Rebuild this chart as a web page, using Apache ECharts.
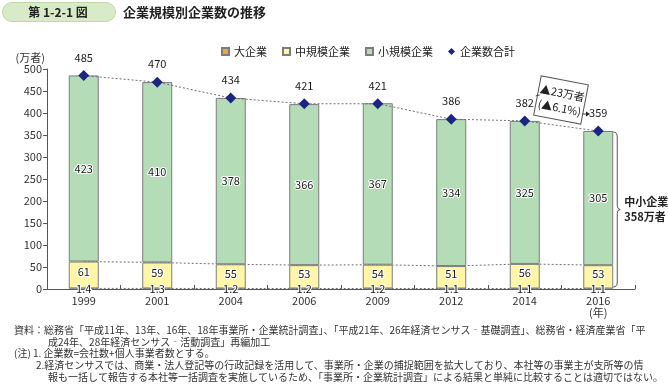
<!DOCTYPE html>
<html><head><meta charset="utf-8">
<script src="https://cdn.jsdelivr.net/npm/echarts@6/dist/echarts.min.js"></script>
<style>html,body{margin:0;padding:0;background:#fff}#c{width:668px;height:389px}</style>
</head><body><div id="c"></div>
<script>
const years = ['1999','2001','2004','2006','2009','2012','2014','2016'];
const large = [1.4,1.3,1.2,1.2,1.2,1.1,1.1,1.1];
const medium = [61,59,55,53,54,51,56,53];
const small = [423,410,378,366,367,334,325,305];
const total = [485,470,434,421,421,386,382,359];
const yTicks = [0,50,100,150,200,250,300,350,400,450,500];

const FONT = '"Noto Sans CJK JP","Noto Sans",sans-serif';
const lowTop = large.slice();
const midTop = large.map((v,i)=>+(v+medium[i]).toFixed(1));

const chart = echarts.init(document.getElementById('c'));
const border = {borderColor:'#7d7d7d', borderWidth:1};
const halo = {color:'#1a1a1a', fontSize:11, fontFamily:FONT, textBorderColor:'#fff', textBorderWidth:2};
const dashed = {color:'#707070', width:1, type:[2,2]};

chart.setOption({
  animation:false,
  textStyle:{fontFamily:FONT},
  grid:{left:47, right:33, top:69, bottom:100},
  legend:{
    left:216, top:41, itemWidth:7, itemHeight:7, itemGap:15,
    textStyle:{fontSize:11, color:'#222', fontFamily:FONT},
    data:[
      {name:'大企業', icon:'rect'},
      {name:'中規模企業', icon:'rect'},
      {name:'小規模企業', icon:'rect'},
      {name:'企業数合計', icon:'diamond', itemStyle:{color:'#1b2683', borderWidth:0}}
    ]
  },
  xAxis:{
    type:'category', data:years,
    axisLine:{lineStyle:{color:'#555', width:1}},
    axisTick:{show:true, inside:true, length:4, lineStyle:{color:'#555'}},
    axisLabel:{color:'#333', fontSize:11, margin:6, lineHeight:12,
      formatter:(v)=> v==='2016' ? '2016\n(年)' : v}
  },
  yAxis:{
    type:'value', min:0, max:500, interval:50,
    name:'(万者)', nameLocation:'end', nameGap:6,
    nameTextStyle:{color:'#333', fontSize:11, align:'right', padding:[0,2,0,0]},
    axisLine:{show:true, lineStyle:{color:'#555'}},
    axisTick:{show:true, length:4, lineStyle:{color:'#555'}},
    axisLabel:{color:'#333', fontSize:11, margin:5, formatter:(v)=> yTicks.includes(v)? String(v):''},
    splitLine:{show:false}
  },
  series:[
    {name:'lowline', type:'line', data:lowTop, symbol:'none', z:1, lineStyle:dashed, silent:true},
    {name:'midline', type:'line', data:midTop, symbol:'none', z:1, lineStyle:dashed, silent:true},
    {name:'大企業', type:'bar', stack:'s', barWidth:30, data:large, z:2,
      itemStyle:{color:'#f3a73b', borderColor:'#7d7d7d', borderWidth:0.5},
      label:{show:true, position:'inside', ...halo, formatter:(p)=>p.value.toFixed(1)}},
    {name:'中規模企業', type:'bar', stack:'s', barWidth:30, data:medium, z:2,
      itemStyle:{color:'#fff6a6', ...border},
      label:{show:true, position:'inside', offset:[0,-3], ...halo}},
    {name:'小規模企業', type:'bar', stack:'s', barWidth:30, data:small, z:2,
      itemStyle:{color:'#b3dcb7', ...border},
      label:{show:true, position:'inside', ...halo}},
    {name:'企業数合計', type:'line', data:total, z:5,
      symbol:'diamond', symbolSize:11, itemStyle:{color:'#1b2683'},
      lineStyle:dashed,
      label:{show:true, position:'top', distance:7, color:'#1a1a1a', fontSize:11, fontFamily:FONT}}
  ]
});

function px(i,v){ return chart.convertToPixel({xAxisIndex:0,yAxisIndex:0},[i,v]); }
const p2014 = px(6,total[6]);
const p2016 = px(7,total[7]);
const p0 = px(7,0);
const bx = p2016[0]+18, yTop = p2016[1]+1, yBot = p0[1]-2, yMid = (yTop+yBot)/2;
const bs = {stroke:'#555', lineWidth:1, fill:null};

chart.setOption({graphic:[
  {type:'rect', left:2, top:2, shape:{width:113, height:19, r:10},
   style:{fill:'#d8eac8', stroke:'#bcd9a6', lineWidth:1}},
  {type:'text', x:58, y:12, style:{text:'第 1-2-1 図', fill:'#222', font:'bold 12px '+FONT, align:'center', verticalAlign:'middle'}},
  {type:'text', x:123, y:12, style:{text:'企業規模別企業数の推移', fill:'#222', font:'bold 13px '+FONT, verticalAlign:'middle'}},
  {type:'group', x:561, y:100, rotation:-0.19, children:[
    {type:'rect', shape:{x:-24, y:-20, width:48, height:40}, style:{fill:'#fff', stroke:'#555', lineWidth:1}},
    {type:'text', x:0, y:-7, style:{text:'▲23万者', fill:'#222', font:'11px '+FONT, align:'center', verticalAlign:'middle'}},
    {type:'text', x:0, y:8, style:{text:'(▲6.1%)', fill:'#222', font:'11px '+FONT, align:'center', verticalAlign:'middle'}}
  ]},
  {type:'line', shape:{x1:p2014[0]+11, y1:p2014[1]-25, x2:p2014[0]+15, y2:p2014[1]-26}, style:{stroke:'#444', lineWidth:1}},
  {type:'line', shape:{x1:582, y1:p2016[1]-17, x2:586, y2:p2016[1]-17}, style:{stroke:'#444', lineWidth:1}},
  {type:'polygon', shape:{points:[[586,p2016[1]-19.5],[590,p2016[1]-17],[586,p2016[1]-14.5]]}, style:{fill:'#222'}},
  {type:'bezierCurve', shape:{x1:bx-3, y1:yTop, cpx1:bx+1, cpy1:yTop, x2:bx+1, y2:yTop+5}, style:bs},
  {type:'line', shape:{x1:bx+1, y1:yTop+5, x2:bx+1, y2:yMid-4}, style:bs},
  {type:'bezierCurve', shape:{x1:bx+1, y1:yMid-4, cpx1:bx+1, cpy1:yMid, x2:bx+4, y2:yMid}, style:bs},
  {type:'bezierCurve', shape:{x1:bx+4, y1:yMid, cpx1:bx+1, cpy1:yMid, x2:bx+1, y2:yMid+4}, style:bs},
  {type:'line', shape:{x1:bx+1, y1:yMid+4, x2:bx+1, y2:yBot-5}, style:bs},
  {type:'bezierCurve', shape:{x1:bx+1, y1:yBot-5, cpx1:bx+1, cpy1:yBot, x2:bx-3, y2:yBot}, style:bs},
  {type:'text', x:bx+8, y:yMid-8, style:{text:'中小企業', fill:'#222', font:'bold 11px '+FONT, verticalAlign:'middle'}},
  {type:'text', x:bx+8, y:yMid+7, style:{text:'358万者', fill:'#222', font:'bold 11px '+FONT, verticalAlign:'middle'}},
  {type:'text', x:14, y:330, style:{text:'資料：総務省「平成11年、13年、16年、18年事業所・企業統計調査」、「平成21年、26年経済センサス‐基礎調査」、総務省・経済産業省「平', fill:'#333', font:'10px '+FONT, verticalAlign:'middle'}},
  {type:'text', x:48, y:342, style:{text:'成24年、28年経済センサス‐活動調査」再編加工', fill:'#333', font:'10px '+FONT, verticalAlign:'middle'}},
  {type:'text', x:14, y:353, style:{text:'(注) 1. 企業数=会社数+個人事業者数とする。', fill:'#333', font:'10px '+FONT, verticalAlign:'middle'}},
  {type:'text', x:36, y:365, style:{text:'2.経済センサスでは、商業・法人登記等の行政記録を活用して、事業所・企業の捕捉範囲を拡大しており、本社等の事業主が支所等の情', fill:'#333', font:'10px '+FONT, verticalAlign:'middle'}},
  {type:'text', x:48, y:377, style:{text:'報も一括して報告する本社等一括調査を実施しているため、「事業所・企業統計調査」による結果と単純に比較することは適切ではない。', fill:'#333', font:'10px '+FONT, verticalAlign:'middle'}}
]});
</script></body></html>
